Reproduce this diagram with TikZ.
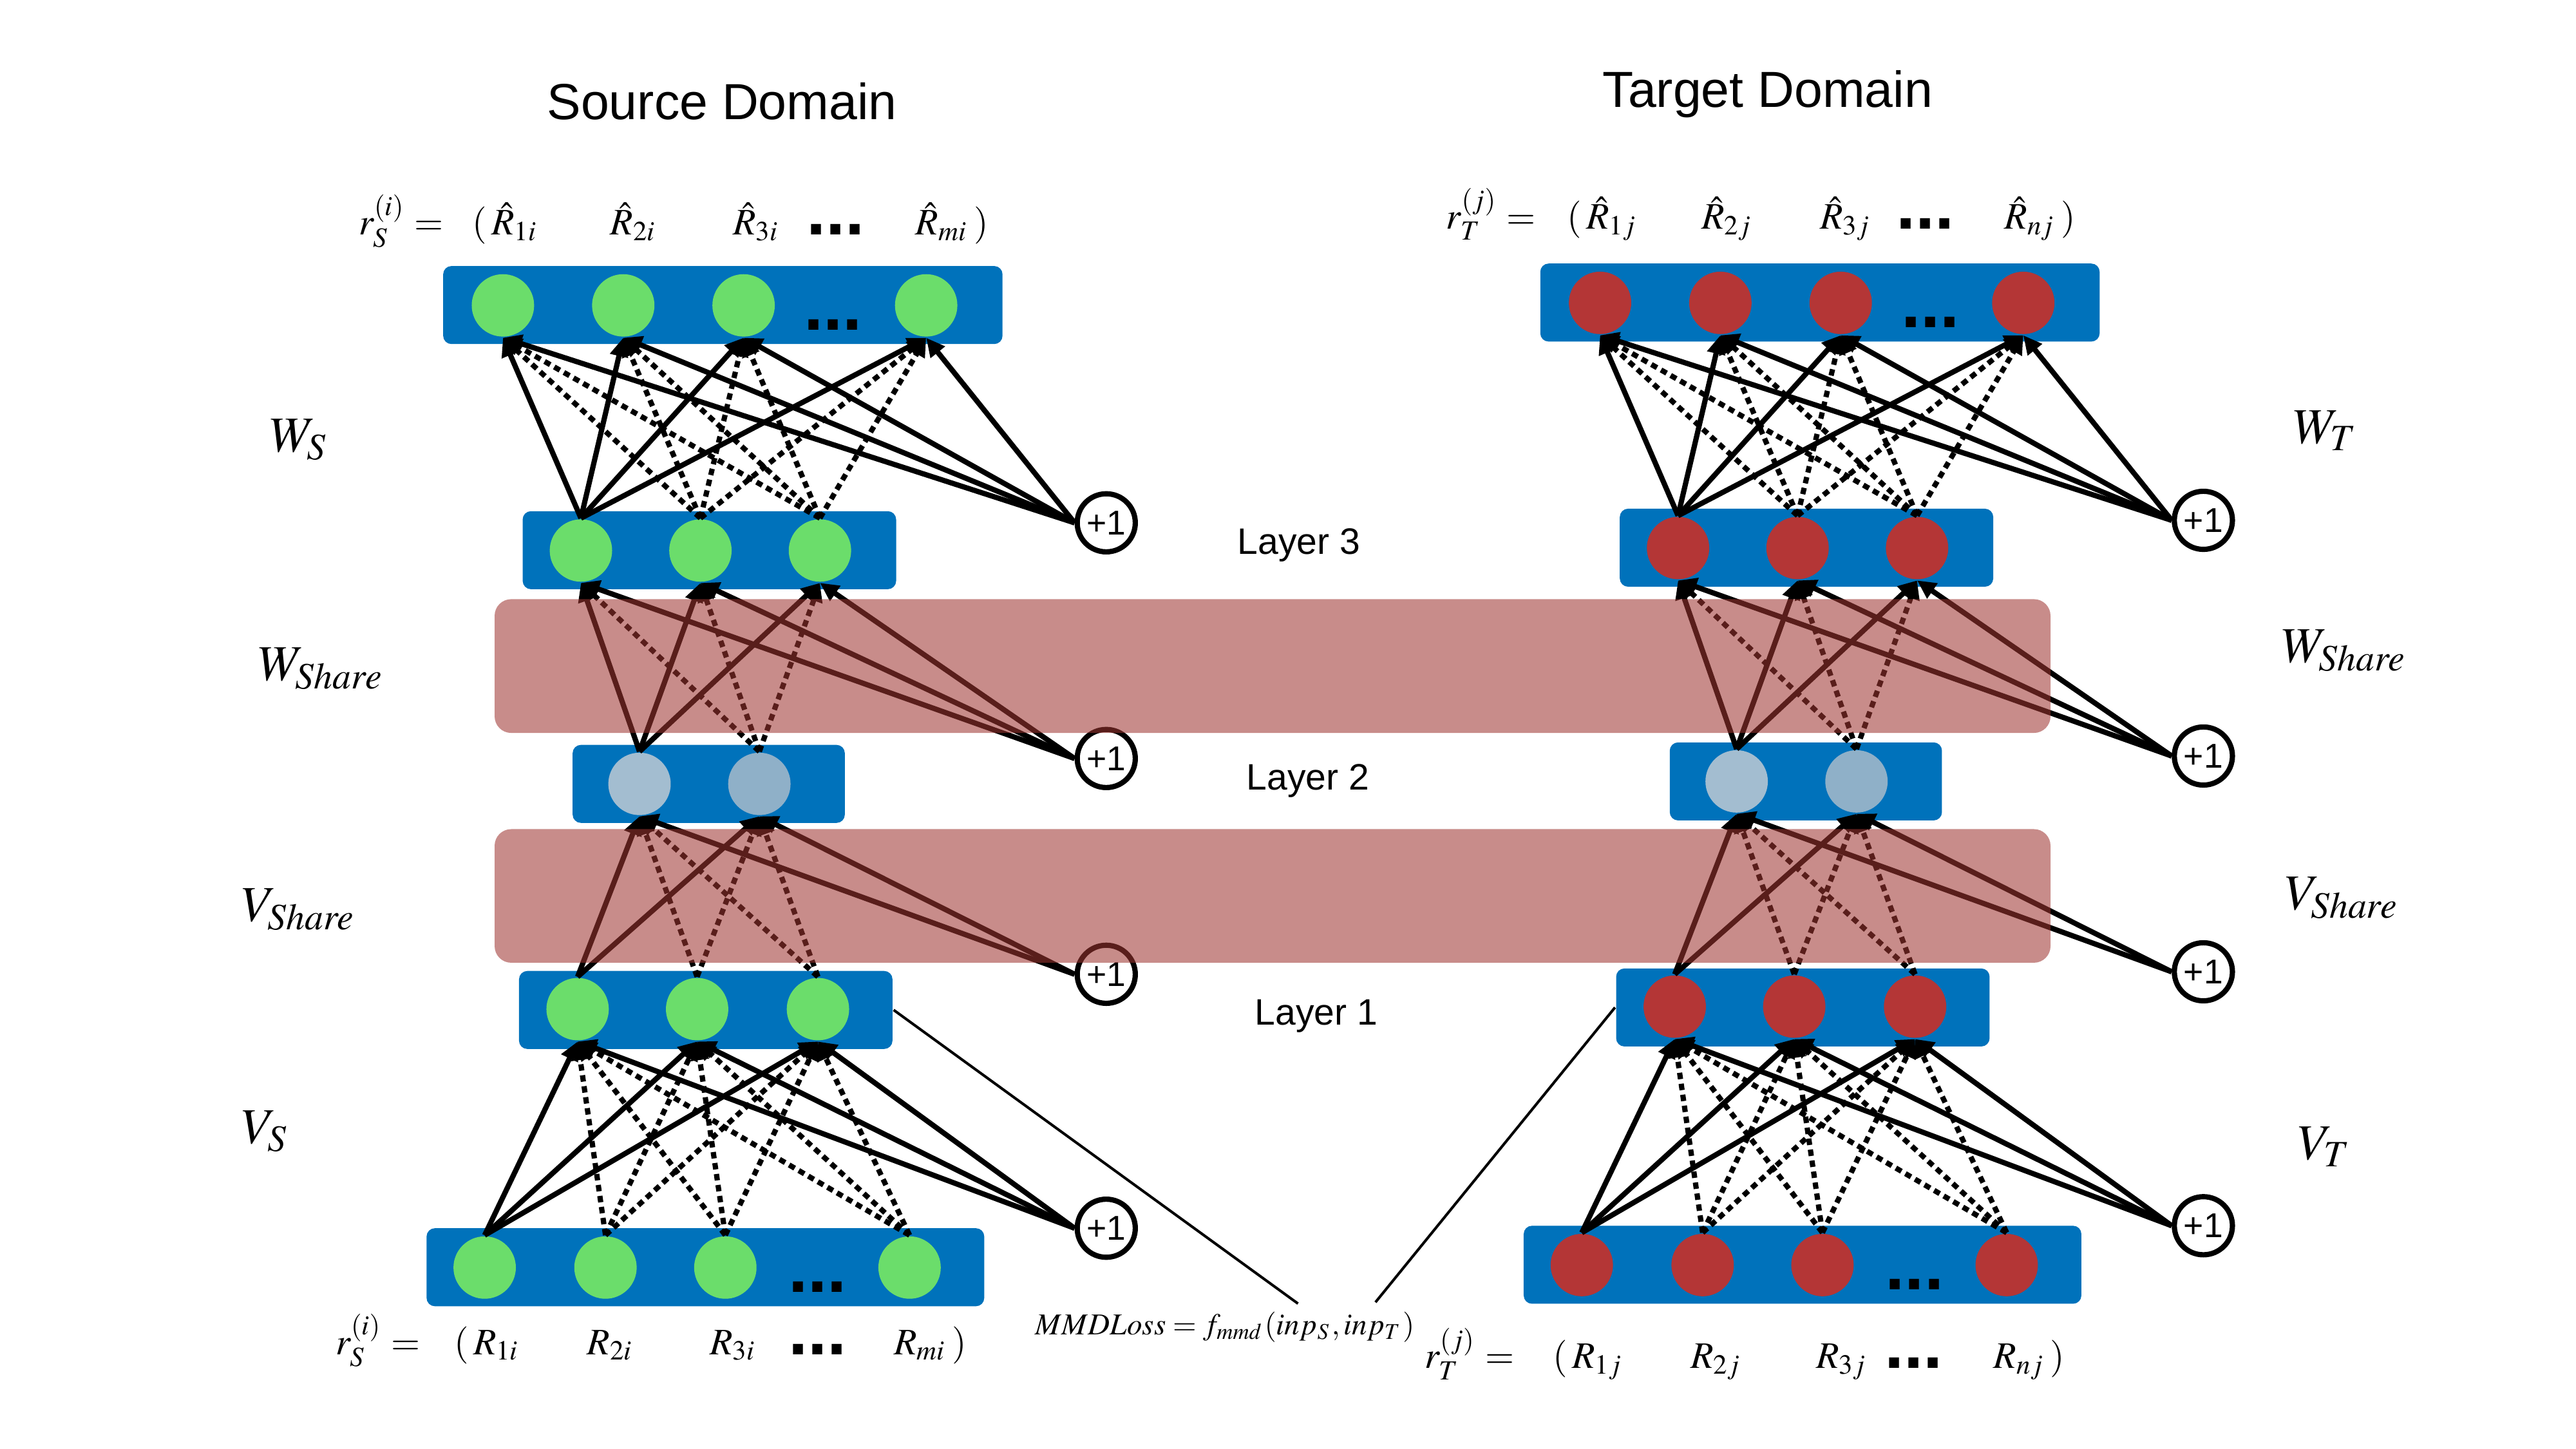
\documentclass[tikz,border=0pt]{standalone}
\usepackage{amsmath}
\usepackage{mathptmx}
\usepackage[no-math]{fontspec}
\setsansfont{Liberation Sans}
\usetikzlibrary{arrows.meta}

\definecolor{boxblue}{RGB}{0,114,187}
\definecolor{srcgreen}{RGB}{107,221,107}
\definecolor{tgtred}{RGB}{180,54,54}
\definecolor{hidA}{RGB}{163,189,208}
\definecolor{hidB}{RGB}{143,176,200}
\definecolor{shareband}{RGB}{158,53,49}
\def\shift{6.61}

\tikzset{
  panel/.style={fill=boxblue, rounded corners=0.5mm, inner sep=0pt, minimum height=0.47cm},
  neuron/.style={circle, inner sep=0pt, minimum size=3.76mm},
  bias/.style={circle, draw, line width=0.9pt, fill=white, inner sep=0pt, minimum size=3.5mm, font=\sffamily\fontsize{5.9}{6}\selectfont},
  wire/.style={-{Triangle[length=3.2pt,width=3pt]}, line width=0.9pt},
  dotwire/.style={wire, dash pattern=on 1.1pt off 0.8pt},
  band/.style={fill=shareband, fill opacity=0.57, rounded corners=1mm, inner sep=0pt},
  ellip/.style={anchor=base, inner sep=0pt, font=\sffamily\bfseries\fontsize{12}{12}\selectfont},
  wlabel/.style={anchor=base west, inner sep=0pt, font=\fontsize{8.6}{10}\selectfont},
  rlabel/.style={anchor=base west, inner sep=0pt, font=\fontsize{6.4}{7}\selectfont},
  lparen/.style={rlabel, anchor=base east},
  layertext/.style={anchor=base, font=\sffamily\fontsize{6.3}{7}\selectfont},
}

\begin{document}
\begin{tikzpicture}[x=1cm, y=-1cm]
\useasboundingbox (0,0) rectangle (15.52,8.73);

% source and target halves, target shifted right
\foreach \s/\dx/\dy/\col in {s/0/0/srcgreen, t/\shift/-0.015/tgtred}{
  \begin{scope}[shift={(\dx,\dy)}]
    \node[panel, minimum width=3.37cm] (\s Out) at (4.355,1.838) {};
    \node[panel, minimum width=2.25cm] (\s L3) at (4.274,3.315) {};
    \node[panel, minimum width=1.64cm] (\s L2) at (4.27,4.723) {};
    \node[panel, minimum width=2.25cm] (\s L1) at (4.252,6.085) {};
    \node[panel, minimum width=3.36cm] (\s In) at (4.25,7.635) {};

    \foreach \i/\x in {1/3.03, 2/3.755, 3/4.48, 4/5.58}
      \node[neuron, fill=\col] (\s o\i) at (\x,1.84) {};
    \foreach \i/\x in {1/3.50, 2/4.22, 3/4.94}
      \node[neuron, fill=\col] (\s c\i) at (\x,3.317) {};
    \foreach \i/\x/\c in {1/3.853/hidA, 2/4.575/hidB}
      \node[neuron, fill=\c] (\s b\i) at (\x,4.723) {};
    \foreach \i/\x in {1/3.48, 2/4.20, 3/4.928}
      \node[neuron, fill=\col] (\s a\i) at (\x,6.08) {};
    \foreach \i/\x in {1/2.92, 2/3.648, 3/4.37, 4/5.48}
      \node[neuron, fill=\col] (\s i\i) at (\x,7.637) {};
    \node[ellip] (\s oDots) at (5.02,1.99) {...};
    \node[ellip] (\s iDots) at (4.925,7.786) {...};

    \foreach \i/\y in {1/3.15, 2/4.57, 3/5.87, 4/7.40}
      \node[bias] (\s p\i) at (6.665,\y) {+1};
  \end{scope}
}

% weights
\foreach \s in {s,t}{
  \foreach \j in {1,2,3}{
    \draw[wire] (\s i1.north) -- (\s a\j.south);
    \foreach \k in {2,3,4} \draw[dotwire] (\s i\k.north) -- (\s a\j.south);
    \draw[wire] (\s p4.west) -- (\s a\j.south);
  }
  \foreach \j in {1,2}{
    \draw[wire] (\s a1.north) -- (\s b\j.south);
    \foreach \k in {2,3} \draw[dotwire] (\s a\k.north) -- (\s b\j.south);
    \draw[wire] (\s p3.west) -- (\s b\j.south);
  }
  \foreach \j in {1,2,3}{
    \draw[wire] (\s b1.north) -- (\s c\j.south);
    \draw[dotwire] (\s b2.north) -- (\s c\j.south);
    \draw[wire] (\s p2.west) -- (\s c\j.south);
  }
  \foreach \j in {1,...,4}{
    \draw[wire] (\s c1.north) -- (\s o\j.south);
    \foreach \k in {2,3} \draw[dotwire] (\s c\k.north) -- (\s o\j.south);
    \draw[wire] (\s p1.west) -- (\s o\j.south);
  }
}

% MMD loss
\node[anchor=base, inner sep=0pt, font=\fontsize{5.2}{6}\selectfont] (mmd) at (7.38,8.04) {$MMDLoss = f_{mmd}(inp_S, inp_T)$};
\coordinate (mmdL) at (7.82,7.854);
\coordinate (mmdR) at (8.287,7.846);
\draw[line width=0.45pt] (sL1.east) -- (mmdL);
\draw[line width=0.45pt] (tL1.west) -- (mmdR);

% shared layers
\node[band, minimum width=9.374cm, minimum height=0.806cm] (wband) at (7.667,4.013) {};
\node[band, minimum width=9.374cm, minimum height=0.805cm] (vband) at (7.667,5.398) {};

% titles and layer names
\node[anchor=base, font=\sffamily\fontsize{8.7}{10}\selectfont] (srcTitle) at (4.35,0.718) {Source Domain};
\node[anchor=base, font=\sffamily\fontsize{8.7}{10}\selectfont] (tgtTitle) at (10.65,0.647) {Target Domain};
\node[layertext] (lay3) at (7.826,3.337) {Layer 3};
\node[layertext] (lay2) at (7.88,4.76) {Layer 2};
\node[layertext] (lay1) at (7.93,6.175) {Layer 1};

% weight names
\node[wlabel] (ws) at (1.62,2.723) {$W_S$};
\node[wlabel] (wsl) at (1.55,4.10) {$W_{Share}$};
\node[wlabel] (vsl) at (1.45,5.55) {$V_{Share}$};
\node[wlabel] (vs) at (1.45,6.888) {$V_S$};
\node[wlabel] (wt) at (13.81,2.67) {$W_T$};
\node[wlabel] (wsr) at (13.74,3.99) {$W_{Share}$};
\node[wlabel] (vsr) at (13.76,5.48) {$V_{Share}$};
\node[wlabel] (vt) at (13.84,6.985) {$V_T$};

% rating vectors
\node[rlabel, anchor=base east] (sTopEq) at (2.68,1.416) {$r_S^{(i)} =$};
\node[rlabel] (sTop1) at (2.955,1.416) {$\hat{R}_{1i}$};
\node[rlabel] (sTop2) at (3.67,1.416) {$\hat{R}_{2i}$};
\node[rlabel] (sTop3) at (4.41,1.416) {$\hat{R}_{3i}$};
\node[ellip] (sTopDots) at (5.035,1.416) {...};
\node[rlabel] (sTopM) at (5.51,1.416) {$\hat{R}_{mi}$};
\node[lparen] (sTopL) at ([xshift=-0.4pt]sTop1.base west) {$($};
\node[rlabel] (sTopR) at ([xshift=0.4pt]sTopM.base east) {$)$};

\node[rlabel, anchor=base east] (sBotEq) at (2.54,8.16) {$r_S^{(i)} =$};
\node[rlabel] (sBot1) at (2.845,8.16) {$R_{1i}$};
\node[rlabel] (sBot2) at (3.53,8.16) {$R_{2i}$};
\node[rlabel] (sBot3) at (4.27,8.16) {$R_{3i}$};
\node[ellip] (sBotDots) at (4.925,8.16) {...};
\node[rlabel] (sBotM) at (5.38,8.16) {$R_{mi}$};
\node[lparen] (sBotL) at ([xshift=-0.4pt]sBot1.base west) {$($};
\node[rlabel] (sBotR) at ([xshift=0.4pt]sBotM.base east) {$)$};

\node[rlabel, anchor=base east] (tTopEq) at (9.26,1.38) {$r_T^{(j)} =$};
\node[rlabel] (tTop1) at (9.55,1.38) {$\hat{R}_{1j}$};
\node[rlabel] (tTop2) at (10.245,1.38) {$\hat{R}_{2j}$};
\node[rlabel] (tTop3) at (10.96,1.38) {$\hat{R}_{3j}$};
\node[ellip] (tTopDots) at (11.60,1.38) {...};
\node[rlabel] (tTopN) at (12.07,1.38) {$\hat{R}_{nj}$};
\node[lparen] (tTopL) at ([xshift=-0.4pt]tTop1.base west) {$($};
\node[rlabel] (tTopR) at ([xshift=0.4pt]tTopN.base east) {$)$};

\node[rlabel, anchor=base east] (tBotEq) at (9.13,8.245) {$r_T^{(j)} =$};
\node[rlabel] (tBot1) at (9.465,8.245) {$R_{1j}$};
\node[rlabel] (tBot2) at (10.18,8.245) {$R_{2j}$};
\node[rlabel] (tBot3) at (10.935,8.245) {$R_{3j}$};
\node[ellip] (tBotDots) at (11.53,8.245) {...};
\node[rlabel] (tBotN) at (12.005,8.245) {$R_{nj}$};
\node[lparen] (tBotL) at ([xshift=-0.4pt]tBot1.base west) {$($};
\node[rlabel] (tBotR) at ([xshift=0.4pt]tBotN.base east) {$)$};
\end{tikzpicture}
\end{document}
